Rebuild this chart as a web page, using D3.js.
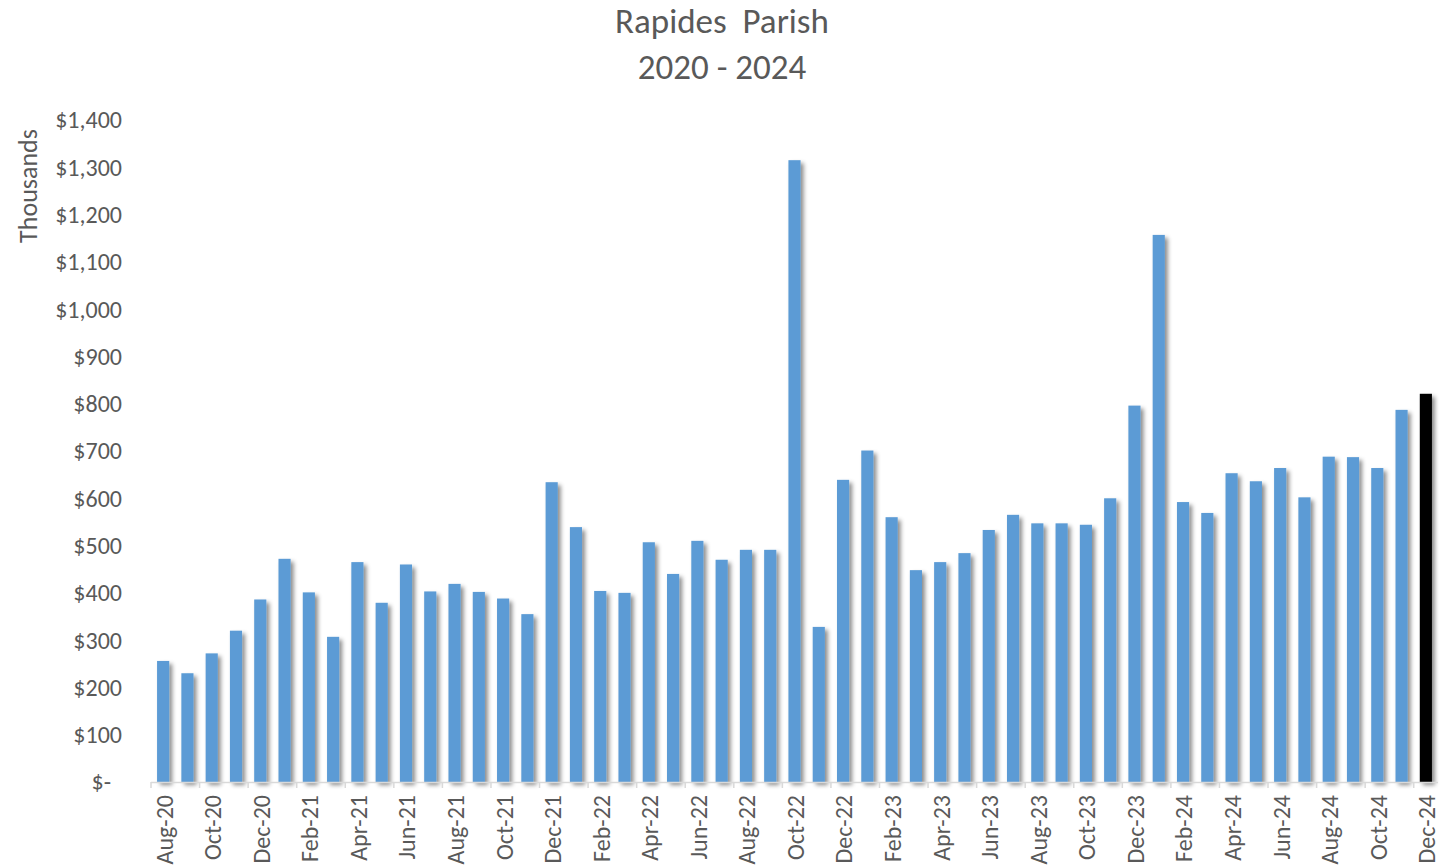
<!DOCTYPE html>
<html>
<head>
<meta charset="utf-8">
<script src="https://cdn.jsdelivr.net/npm/d3@7"></script>
<style>
  html, body { margin: 0; padding: 0; background: #fff; }
  svg { display: block; }
  text { font-family: Carlito, Calibri, Lato, "Open Sans", "Liberation Sans", sans-serif; fill: #595959; }
</style>
</head>
<body>
<svg id="chart" width="1444" height="868"></svg>
<script>
// Monthly totals (thousands of dollars), Aug 2020 – Dec 2024
const months = [
  "Aug-20","Sep-20","Oct-20","Nov-20","Dec-20",
  "Jan-21","Feb-21","Mar-21","Apr-21","May-21","Jun-21","Jul-21","Aug-21","Sep-21","Oct-21","Nov-21","Dec-21",
  "Jan-22","Feb-22","Mar-22","Apr-22","May-22","Jun-22","Jul-22","Aug-22","Sep-22","Oct-22","Nov-22","Dec-22",
  "Jan-23","Feb-23","Mar-23","Apr-23","May-23","Jun-23","Jul-23","Aug-23","Sep-23","Oct-23","Nov-23","Dec-23",
  "Jan-24","Feb-24","Mar-24","Apr-24","May-24","Jun-24","Jul-24","Aug-24","Sep-24","Oct-24","Nov-24","Dec-24"
];
const values = [
  256, 230, 272, 320, 386,
  472, 401, 307, 465, 379, 460, 403, 419, 402, 388, 355, 634,
  539, 404, 400, 507, 440, 510, 470, 491, 491, 1315, 328, 639,
  701, 560, 448, 465, 484, 533, 565, 547, 547, 544, 600, 796,
  1157, 592, 569, 653, 636, 664, 602, 688, 687, 664, 787, 821
];
const yTicks = [0, 100, 200, 300, 400, 500, 600, 700, 800, 900, 1000, 1100, 1200, 1300, 1400];
const titleLines = ["Rapides  Parish", "2020 - 2024"];
const yAxisTitle = "Thousands";

const svg = d3.select("#chart");
const plotLeft = 151, plotRight = 1438, plotTop = 120, plotBottom = 782;

const x = d3.scaleBand().domain(months).range([plotLeft, plotRight]).paddingInner(0.5).paddingOuter(0.25);
const y = d3.scaleLinear().domain([0, 1400]).range([plotBottom, plotTop]);

// soft drop shadow behind each bar
const defs = svg.append("defs");
const f = defs.append("filter").attr("id", "shadow")
  .attr("x", "-50%").attr("y", "-10%").attr("width", "250%").attr("height", "130%");
f.append("feDropShadow").attr("dx", 3).attr("dy", 3).attr("stdDeviation", 2.2)
  .attr("flood-color", "#000").attr("flood-opacity", 0.45);

// title
svg.selectAll("text.title").data(titleLines).join("text")
  .attr("class", "title")
  .attr("x", 722).attr("y", (d, i) => 33 + i * 46)
  .attr("text-anchor", "middle")
  .style("font-size", "35px")
  .style("white-space", "pre")
  .text(d => d);

// y axis title
svg.append("text")
  .attr("transform", `translate(37,186) rotate(-90)`)
  .attr("text-anchor", "middle")
  .style("font-size", "26px")
  .text(yAxisTitle);

// y tick labels
const fmt = d => d === 0 ? "$-" : "$" + d3.format(",")(d);
svg.selectAll("text.ytick").data(yTicks).join("text")
  .attr("class", "ytick")
  .attr("x", d => d === 0 ? 111 : 122)
  .attr("y", d => y(d))
  .attr("dy", "0.35em")
  .attr("text-anchor", "end")
  .style("font-size", "24px")
  .text(fmt);

// bars
svg.append("g").selectAll("rect").data(values).join("rect")
  .attr("x", (d, i) => x(months[i]))
  .attr("y", d => y(d))
  .attr("width", x.bandwidth())
  .attr("height", d => plotBottom - y(d))
  .attr("fill", (d, i) => i === values.length - 1 ? "#000000" : "#5b9bd5")
  .attr("filter", "url(#shadow)");

// x axis line and ticks
const step = x.step();
svg.append("line")
  .attr("x1", plotLeft).attr("x2", plotRight).attr("y1", plotBottom + 0.5).attr("y2", plotBottom + 0.5)
  .attr("stroke", "#d9d9d9").attr("stroke-width", 1.5);
const tickIdx = d3.range(0, months.length + 1, 2);
svg.append("g").selectAll("line").data(tickIdx).join("line")
  .attr("x1", i => plotLeft + i * step).attr("x2", i => plotLeft + i * step)
  .attr("y1", plotBottom).attr("y2", plotBottom + 6)
  .attr("stroke", "#d9d9d9").attr("stroke-width", 1.5);

// x tick labels, every other month
const labelled = months.filter((m, i) => i % 2 === 0);
svg.selectAll("text.xtick").data(labelled).join("text")
  .attr("class", "xtick")
  .attr("transform", d => `translate(${x(d) + x.bandwidth() / 2 + 1},795) rotate(-90)`)
  .attr("dy", "0.35em")
  .attr("text-anchor", "end")
  .style("font-size", "24px")
  .text(d => d);
</script>
</body>
</html>
